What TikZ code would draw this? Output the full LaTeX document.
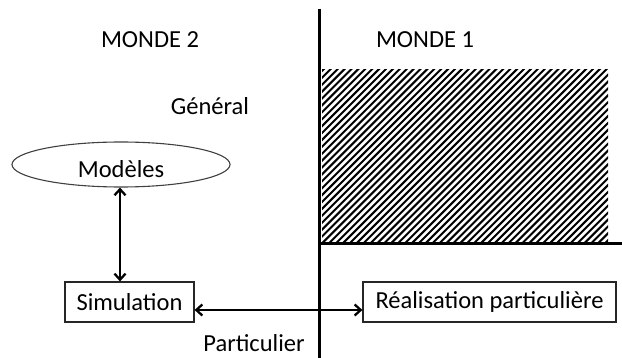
\documentclass[tikz,border=0pt]{standalone}
\usepackage{fontspec}
\setmainfont{Carlito}
\usetikzlibrary{shapes.geometric,arrows.meta}
\begin{document}
\begin{tikzpicture}[x=1pt,y=-1pt,
  txt/.style={font=\fontsize{24.5}{27}\selectfont, inner sep=0pt},
  boxnode/.style={txt, draw=black!85, line width=1.2pt, minimum height=40pt},
  ell/.style={txt, ellipse, draw=black!75, line width=1.1pt, minimum width=218pt, minimum height=45pt, inner sep=0pt},
  divider/.style={line width=3pt, black},
  conn/.style={line width=2.3pt, {Straight Barb[length=6pt,width=11pt]}-{Straight Barb[length=6pt,width=11pt]}}]
\useasboundingbox (0,0) rectangle (622,358);
% hatched area
\begin{scope}
  \clip (322,70) rectangle (608,244);
  \foreach \i in {0,6.9,...,480}
    \draw[line width=2pt] ({322+\i-180},244) -- ++(180,-180);
\end{scope}
% dividers
\coordinate (vtop) at (319,9);
\coordinate (vbot) at (319,358);
\coordinate (hl) at (319,244);
\coordinate (hr) at (622,244);
\draw[divider] (vtop) -- (vbot);
\draw[divider] (hl) -- (hr);
% labels
\node[txt] (m2) at (150,40) {MONDE 2};
\node[txt] (m1) at (425,40) {MONDE 1};
\node[txt] (gen) at (210,106) {Général};
\node[txt] (part) at (254,343) {Particulier};
% nodes
\node[ell] (mod) at (121,164.5) {\raisebox{-13pt}[0pt][0pt]{Modèles}};
\node[boxnode, minimum width=129pt] (sim) at (129.5,302) {Simulation};
\node[boxnode, minimum width=253pt] (real) at (489.5,302) {Réalisation particulière};
% connectors
\draw[conn] ([xshift=-1pt]mod.south) -- ([xshift=-1pt]mod.south |- sim.north);
\draw[conn] ([yshift=-8pt]sim.east) -- ([yshift=-8pt]real.west);
\end{tikzpicture}
\end{document}
